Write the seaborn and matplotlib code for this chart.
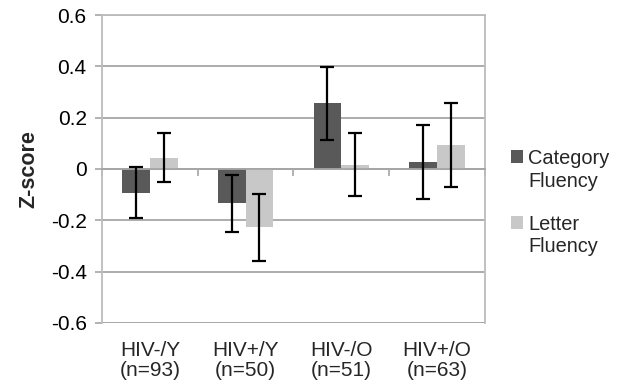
import matplotlib
matplotlib.use('Agg')
import matplotlib.pyplot as plt
import matplotlib.transforms as mtransforms
from matplotlib.legend_handler import HandlerPatch
from matplotlib.patches import Rectangle
import pandas as pd
import seaborn as sns

# Data
groups = ['HIV-/Y\n(n=93)', 'HIV+/Y\n(n=50)', 'HIV-/O\n(n=51)', 'HIV+/O\n(n=63)']
series = ['Category\nFluency', 'Letter\nFluency']
category_fluency = [-0.092, -0.134, 0.256, 0.029]
letter_fluency = [0.044, -0.227, 0.017, 0.094]
category_err = [0.100, 0.110, 0.143, 0.144]
letter_err = [0.096, 0.130, 0.123, 0.165]

df = pd.DataFrame({
    'group': groups * 2,
    'measure': [series[0]] * 4 + [series[1]] * 4,
    'z': category_fluency + letter_fluency,
})
errs = [category_err, letter_err]

sns.set_style('white')
plt.rcParams['font.family'] = ['Liberation Sans', 'DejaVu Sans']

fig = plt.figure(figsize=(6.2, 3.91), dpi=100)
ax = fig.add_axes([0.1645, 0.174, 0.6175, 0.7876])

sns.barplot(data=df, x='group', y='z', hue='measure', order=groups,
            hue_order=series, palette=['#595959', '#c8c8c8'],
            width=0.58, gap=0, errorbar=None, saturation=1, ax=ax,
            linewidth=0)

# Error bars placed on the bars seaborn drew
for cont, err in zip(ax.containers, errs):
    xs = [p.get_x() + p.get_width() / 2 for p in cont.patches]
    ys = [p.get_height() for p in cont.patches]
    ax.errorbar(xs, ys, yerr=err, fmt='none', ecolor='black',
                elinewidth=1.6, capsize=4.7, capthick=1.6, zorder=5)

ax.set_ylim(-0.6, 0.6)
ax.set_xlim(-0.5, 3.5)
ax.set_yticks([-0.6, -0.4, -0.2, 0, 0.2, 0.4, 0.6])
ax.set_yticklabels(['-0.6', '-0.4', '-0.2', '0', '0.2', '0.4', '0.6'])
ax.yaxis.grid(True, color='#a6a6a6', linewidth=1.3)
ax.set_axisbelow(True)

# Frame: zero line acts as category axis
for s in ['top', 'right', 'left']:
    ax.spines[s].set_visible(True)
    ax.spines[s].set_color('#bcbcbc')
    ax.spines[s].set_linewidth(1.3)
ax.spines['bottom'].set_position(('data', 0))
ax.spines['bottom'].set_color('#a6a6a6')
ax.spines['bottom'].set_linewidth(1.3)
ax.axhline(-0.6, color='#bcbcbc', linewidth=1.3, zorder=0.5)

ax.tick_params(axis='y', which='major', left=True, length=5, width=1.2,
               color='#a6a6a6', labelsize=15, pad=6, labelcolor='black')
ax.set_xticks([0, 1, 2, 3])
ax.set_xticklabels([])
ax.tick_params(axis='x', which='major', length=0)
ax.set_xticks([-0.5, 0.5, 1.5, 2.5, 3.5], minor=True)
ax.tick_params(axis='x', which='minor', bottom=True, length=5, width=1.2,
               color='#a6a6a6', direction='out')

trans = mtransforms.blended_transform_factory(ax.transData, ax.transAxes)
for i, g in enumerate(groups):
    ax.text(i, -0.058, g, transform=trans, ha='center', va='top',
            fontsize=15, linespacing=1.05)

ax.set_xlabel('')
ax.set_ylabel('Z-score', fontsize=15.5, fontweight='bold', labelpad=8)


# legend square sits beside the first line of the label
def top_square(legend, orig_handle, xdescent, ydescent, width, height, fontsize):
    return Rectangle((-xdescent, -ydescent + 0.68 * fontsize), width, height)


ax.legend_.remove()
handles, labels = ax.get_legend_handles_labels()
leg = fig.legend(handles, labels, loc='upper left', bbox_to_anchor=(0.812, 0.64),
                 frameon=False, fontsize=14.4, handlelength=0.6, handleheight=0.6,
                 handletextpad=0.25, labelspacing=1.2, borderaxespad=0,
                 handler_map={Rectangle: HandlerPatch(patch_func=top_square)})
for t in leg.get_texts():
    t.set_linespacing(1.25)

fig.savefig('out.png', dpi=100)
